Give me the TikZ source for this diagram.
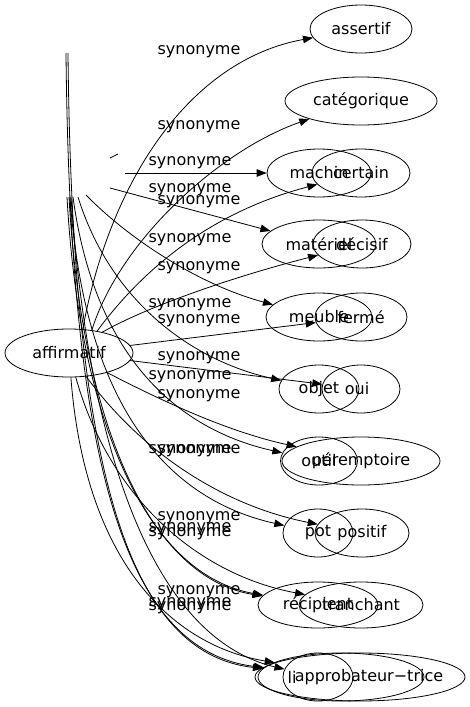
\documentclass[tikz,border=0pt]{standalone}
\usepackage{fontspec}
\setmainfont{DejaVu Sans}
\usetikzlibrary{shapes.geometric,arrows.meta}
\begin{document}
\begin{tikzpicture}[x=1pt,y=-1pt,
  nd/.style={draw, ellipse, inner sep=0pt, minimum height=48pt, line width=0.8pt, font=\fontsize{16}{19}\selectfont},
  ed/.style={line width=0.8pt, -{Triangle[length=10pt,width=7.5pt]}},
  lab/.style={inner sep=0pt, font=\fontsize{16}{19}\selectfont}]
\useasboundingbox (0,0) rectangle (470,707);
% main graph nodes
\node[nd, minimum width=128pt] (aff) at (69,353) {affirmatif};
\node[nd, minimum width=102pt] (assertif) at (361,29) {assertif};
\node[nd, minimum width=152pt] (categ) at (361,101) {catégorique};
\node[nd, minimum width=98pt] (certain) at (361,173) {certain};
\node[nd, minimum width=98pt] (decisif) at (362,244) {décisif};
\node[nd, minimum width=92pt] (ferme) at (361,317) {fermé};
\node[nd, minimum width=78pt] (oui) at (361,389) {};
\node[lab] (ouitxt) at (357,389) {oui};
\node[nd, minimum width=158pt] (perem) at (361,461) {péremptoire};
\node[nd, minimum width=94pt] (positif) at (362,533) {positif};
\node[nd, minimum width=124pt, minimum height=46pt] (tranchant) at (361,605) {tranchant};
\node[nd, minimum width=210pt] (approb) at (360,677) {};
\node[lab] (approbtxt) at (369,677) {approbateur−trice};
% second graph nodes
\node[nd, minimum width=104pt] (machin) at (319,173) {machin};
\node[nd, minimum width=114pt] (materiel) at (319,244) {matériel};
\node[nd, minimum width=106pt] (meuble) at (319,317) {meuble};
\node[nd, minimum width=80pt] (objet) at (319,389) {objet};
\node[nd, minimum width=77pt] (outil) at (319,461) {outil};
\node[nd, minimum width=70pt] (pot) at (318,533) {pot};
\node[nd, minimum width=120pt, minimum height=46pt] (recipient) at (318,605) {récipient};
\node[nd, minimum width=166pt] (extra) at (341,677) {};
\node[nd, minimum width=70pt] (lsmall) at (318,677) {};
\node[lab] (litxt) at (292,677) {li};
% free start points of the second graph
\coordinate (t1) at (66,53);
\coordinate (t2) at (68,53);
\coordinate (s1) at (125,173);
\coordinate (s2) at (110,188);
\coordinate (s3) at (86,195);
\coordinate (s4) at (78,197);
\coordinate (s5) at (73,197);
\coordinate (s6) at (70,197);
\coordinate (s7) at (67,197);
\coordinate (s8) at (69,197);
\coordinate (s9) at (71,197);
\coordinate (f1) at (110,158);
\coordinate (f2) at (118,154);
% main graph edges
\draw[ed] (aff.60) .. controls (110,180) and (190,60) .. (assertif);
\draw[ed] (aff.45) .. controls (120,240) and (220,150) .. (categ);
\draw[ed] (aff.38) .. controls (135,280) and (200,215) .. (certain);
\draw[ed] (aff.32) .. controls (150,305) and (240,275) .. (decisif);
\draw[ed] (aff) -- (ferme);
\draw[ed] (aff) -- (oui);
\draw[ed] (aff) .. controls (170,405) and (230,432) .. (perem);
\draw[ed] (aff) .. controls (140,450) and (220,505) .. (positif);
\draw[ed] (aff) .. controls (110,500) and (200,575) .. (tranchant);
\draw[ed] (aff) .. controls (85,560) and (170,645) .. (approb);
% second graph edges
\draw[ed] (s1) -- (machin);
\draw[ed] (s2) -- (materiel);
\draw[ed] (s3) .. controls (130,240) and (200,285) .. (meuble);
\draw[ed] (s4) .. controls (110,300) and (190,360) .. (objet);
\draw[ed] (s5) .. controls (95,360) and (180,430) .. (outil);
\draw[ed] (s6) .. controls (85,410) and (170,500) .. (pot);
\draw[ed] (s7) .. controls (80,430) and (150,575) .. (recipient);
\draw[ed] (s8) .. controls (82,430) and (152,578) .. (recipient);
\draw[ed] (t1) .. controls (70,450) and (120,650) .. (extra);
\draw[ed] (t2) .. controls (72,450) and (122,653) .. (extra);
\draw[ed] (s9) .. controls (90,470) and (160,640) .. (lsmall);
\draw[line width=0.8pt] (f1) -- (f2);
% labels
\node[lab] (l1) at (199,52) {synonyme};
\node[lab] (l2) at (199,127) {synonyme};
\node[lab] (l3) at (190,163) {synonyme};
\node[lab] (l4) at (190,190) {synonyme};
\node[lab] (l5) at (199,202) {synonyme};
\node[lab] (l6) at (190,240) {synonyme};
\node[lab] (l7) at (199,268) {synonyme};
\node[lab] (l8) at (190,305) {synonyme};
\node[lab] (l9) at (199,321) {synonyme};
\node[lab] (l10) at (199,358) {synonyme};
\node[lab] (l11) at (190,377) {synonyme};
\node[lab] (l12) at (199,396) {synonyme};
\node[lab] (l13) at (190,451) {synonyme};
\node[lab] (l14) at (199,451) {synonyme};
\node[lab] (l15) at (199,518) {synonyme};
\node[lab] (l16) at (190,529) {synonyme};
\node[lab] (l17) at (190,534) {synonyme};
\node[lab] (l18) at (199,592) {synonyme};
\node[lab] (l19) at (190,604) {synonyme};
\node[lab] (l20) at (190,608) {synonyme};
\end{tikzpicture}
\end{document}
